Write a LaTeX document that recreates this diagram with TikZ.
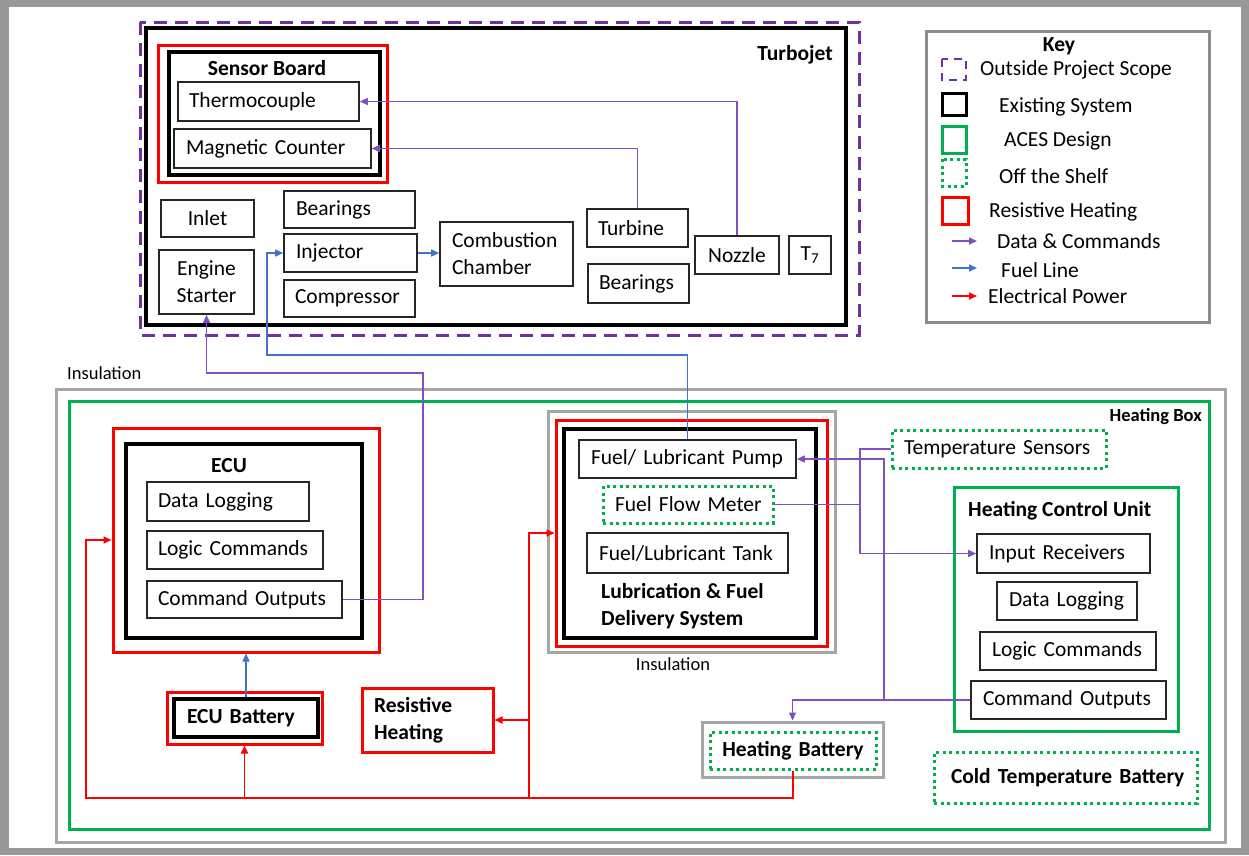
\documentclass[tikz,border=0pt]{standalone}
\usepackage{fontspec}
\setmainfont{Carlito}
\usetikzlibrary{arrows.meta}
\definecolor{cpurple}{HTML}{7030A0}
\definecolor{lpurple}{HTML}{8050C0}
\definecolor{cblue}{HTML}{4472C4}
\definecolor{cred}{HTML}{FF0000}
\definecolor{cgreen}{HTML}{00B050}
\definecolor{cgray}{HTML}{A6A6A6}
\definecolor{keygray}{HTML}{8C8C8C}
\definecolor{framegray}{HTML}{999999}
\newcommand\lpad[1]{\hspace*{#1pt}}
\newcommand\Bx[7]{%
  \pgfmathsetmacro\bxw{#5-#3}%
  \pgfmathsetmacro\bxh{#6-#4}%
  \pgfmathsetmacro\bxcx{(#3+#5)/2}%
  \pgfmathsetmacro\bxcy{(#4+#6)/2}%
  \node[#1, minimum width=\bxw pt, minimum height=\bxh pt, text width=\bxw pt, inner xsep=0pt, inner ysep=0pt] (#2) at (\bxcx,\bxcy) {#7};}
\tikzset{
  every node/.style={inner sep=0pt, font=\fontsize{21.5}{27}\selectfont, text=black},
  tb/.style={draw=black!85, line width=1.6pt, align=left},
  tbc/.style={draw=black!85, line width=1.6pt, align=center},
  kb/.style={draw=black, line width=3.5pt},
  rb/.style={draw=cred, line width=3pt},
  gb/.style={draw=cgreen, line width=3pt},
  db/.style={draw=cgreen, line width=3pt, dash pattern=on 3pt off 3.5pt, align=left},
  ib/.style={draw=cgray, line width=3pt},
  bold/.style={font=\fontsize{21.5}{27}\selectfont\bfseries},
  ttl/.style={font=\fontsize{21.5}{27}\selectfont\bfseries},
  ttls/.style={font=\fontsize{18.5}{22}\selectfont\bfseries},
  lbl/.style={font=\fontsize{18.5}{22}\selectfont},
  dc/.style={draw=lpurple, line width=1.5pt, -{Triangle[length=8pt,width=7pt]}},
  dcl/.style={draw=lpurple, line width=1.5pt},
  fl/.style={draw=cblue, line width=1.5pt, -{Triangle[length=8pt,width=7pt]}},
  pw/.style={draw=cred, line width=1.8pt, -{Triangle[length=8pt,width=7pt]}},
  pwl/.style={draw=cred, line width=1.8pt},
}
\begin{document}
\begin{tikzpicture}[x=1pt,y=-1pt]
\useasboundingbox (0,0) rectangle (1249,855);
\fill[framegray] (0,0) rectangle (1249,855);
\fill[white] (9,7) rectangle (1241,848);

% ---------------- Turbojet ----------------
\draw[cpurple, line width=3pt, dash pattern=on 13pt off 8pt] (140,22) rectangle (859,335);
\Bx{kb}{turbojet}{146}{28}{846}{325}{}
\node[ttl, anchor=east] (tjlabel) at (833,55) {Turbojet};
\Bx{rb}{sbred}{158}{45}{387}{182}{}
\Bx{kb}{sb}{169}{52}{380}{175}{}
\node[ttl] (sblabel) at (267,68) {Sensor Board};
\Bx{tb}{thermo}{178}{82}{359}{121}{\lpad{11}Thermocouple}
\Bx{tb}{magc}{174}{129}{371}{168}{\lpad{12}Magnetic Counter}
\Bx{tbc}{inlet}{161}{200}{254}{237}{Inlet}
\Bx{tbc}{starter}{159}{250}{254}{314}{Engine\\Starter}
\Bx{tb}{bear1}{284}{191}{415}{228}{\lpad{12}Bearings}
\Bx{tb}{inj}{284}{234}{417}{272}{\lpad{12}Injector}
\Bx{tb}{comp}{284}{280}{415}{317}{\lpad{11}Compressor}
\Bx{tb}{comb}{440}{222}{573}{286}{\lpad{12}Combustion\\\lpad{12}Chamber}
\Bx{tb}{turbine}{587}{209}{688}{247}{\lpad{11}Turbine}
\Bx{tb}{bear2}{588}{264}{689}{303}{\lpad{11}Bearings}
\Bx{tbc}{nozzle}{695}{236}{779}{274}{Nozzle}
\Bx{tbc}{tseven}{789}{236}{831}{274}{T\textsubscript{7}}

% ---------------- Key ----------------
\Bx{draw=keygray, line width=3pt}{key}{926}{31}{1209}{322}{}
\node[ttl] (keyt) at (1059,46) {Key};
\draw[cpurple, line width=2.5pt, dash pattern=on 8pt off 6pt] (942,59) rectangle (966,80);
\draw[black, line width=3pt] (942,93) rectangle (966,115);
\draw[cgreen, line width=3pt] (942,126) rectangle (966,153);
\draw[cgreen, line width=3pt, dash pattern=on 3pt off 3.5pt] (942,159) rectangle (966,186);
\draw[cred, line width=3pt] (942,197) rectangle (968,224);
\node[anchor=west] (k1) at (980,70) {Outside Project Scope};
\node[anchor=west] (k2) at (999,107) {Existing System};
\node[anchor=west] (k3) at (1004,141) {ACES Design};
\node[anchor=west] (k4) at (999,176) {Off the Shelf};
\node[anchor=west] (k5) at (989,212) {Resistive Heating};
\node[anchor=west] (k6) at (997,241) {Data \& Commands};
\node[anchor=west] (k7) at (1001,270) {Fuel Line};
\node[anchor=west] (k8) at (988,296) {Electrical Power};
\coordinate (la1) at (952,241); \coordinate (lb1) at (977,241);
\coordinate (la2) at (952,268); \coordinate (lb2) at (977,268);
\coordinate (la3) at (952,296); \coordinate (lb3) at (977,296);
\draw[dc] (la1) -- (lb1);
\draw[fl] (la2) -- (lb2);
\draw[pw] (la3) -- (lb3);

% ---------------- Heating box ----------------
\Bx{ib}{insul}{56}{389}{1225}{842}{}
\node[lbl, anchor=west] (insl) at (67,373) {Insulation};
\Bx{gb}{hbox}{69}{401}{1209}{829}{}
\node[ttls, anchor=east] (hbl) at (1202,417) {Heating Box};

% ECU
\Bx{rb}{ecured}{113}{428}{379}{652}{}
\Bx{kb}{ecu}{126}{444}{362}{638}{}
\node[ttl] (ecul) at (229,466) {ECU};
\Bx{tb}{ecudl}{147}{482}{309}{521}{\lpad{11}Data Logging}
\Bx{tb}{eculc}{147}{531}{323}{569}{\lpad{11}Logic Commands}
\Bx{tb}{ecuco}{147}{581}{342}{618}{\lpad{11}Command Outputs}
\Bx{rb}{ebred}{167}{692}{322}{744}{}
\Bx{kb, align=left, bold}{ebat}{174}{699}{318}{737}{\lpad{13}ECU Battery}
\Bx{rb, align=left, bold}{resh}{362}{688}{493}{752}{\lpad{12}Resistive\\\lpad{12}Heating}

% Lubrication & Fuel
\Bx{ib}{lfins}{548}{411}{835}{652}{}
\Bx{rb}{lfred}{556}{420}{827}{646}{}
\Bx{kb}{lf}{564}{429}{816}{638}{}
\Bx{tb}{pump}{579}{440}{796}{478}{\lpad{12}Fuel/ Lubricant Pump}
\Bx{db}{ffm}{603}{486}{773}{523}{\lpad{12}Fuel Flow Meter}
\Bx{tb}{tank}{587}{533}{788}{573}{\lpad{12}Fuel/Lubricant Tank}
\node[ttl, anchor=west, align=left] (lfl) at (601,606) {Lubrication \& Fuel\\Delivery System};
\node[lbl] (insl2) at (673,664) {Insulation};

% Right side
\Bx{db}{temps}{892}{430}{1106}{468}{\lpad{12}Temperature Sensors}
\Bx{gb}{hcu}{954}{487}{1178}{731}{}
\node[ttl, anchor=west] (hcul) at (968,511) {Heating Control Unit};
\Bx{tb}{inrec}{977}{534}{1150}{573}{\lpad{12}Input Receivers}
\Bx{tb}{hdl}{997}{582}{1137}{620}{\lpad{12}Data Logging}
\Bx{tb}{hlc}{980}{632}{1156}{670}{\lpad{12}Logic Commands}
\Bx{tb}{hco}{971}{681}{1166}{719}{\lpad{12}Command Outputs}
\Bx{db, bold}{ctb}{934}{752}{1197}{803}{\lpad{17}Cold Temperature Battery}
\Bx{ib}{hbat}{702}{722}{883}{777}{}
\Bx{db, align=center, bold}{hbatin}{710}{732}{876}{769}{Heating Battery}

% ---------------- Connectors ----------------
% data & commands
\draw[dc] (nozzle.north) |- (thermo.east);
\draw[dc] (turbine.north) |- (magc.east);
\coordinate (ja) at (423,373);
\draw[dc] (ecuco.east) -| (ja) -| (starter.south);
\coordinate (jb) at (860,449);
\draw[dc] (temps.west) -- (jb) |- (inrec.west);
\draw[dcl] (ffm.east) -- (ffm.east -| jb);
\coordinate (jc) at (884,700);
\draw[dc] (hco.west) -- (jc) |- (pump.east);
\draw[dc] (jc) -| (hbat.north);
% fuel
\draw[fl] (inj.east) -- (inj.east -| comb.west);
\coordinate (jd) at (267,355);
\draw[fl] (pump.north) |- (jd) |- (inj.west);
\draw[fl] (ebat.north) -- (ebat.north |- ecured.south);
% power
\coordinate (pa) at (86,798);
\coordinate (pb) at (529,798);
\draw[pw] (hbatin.south) |- (pa) |- (ecured.west);
\draw[pw] (ebred.south |- pa) -- (ebred.south);
\draw[pw] (pb) |- (lfred.west);
\draw[pw] (resh.east -| pb) -- (resh.east);
\end{tikzpicture}
\end{document}
